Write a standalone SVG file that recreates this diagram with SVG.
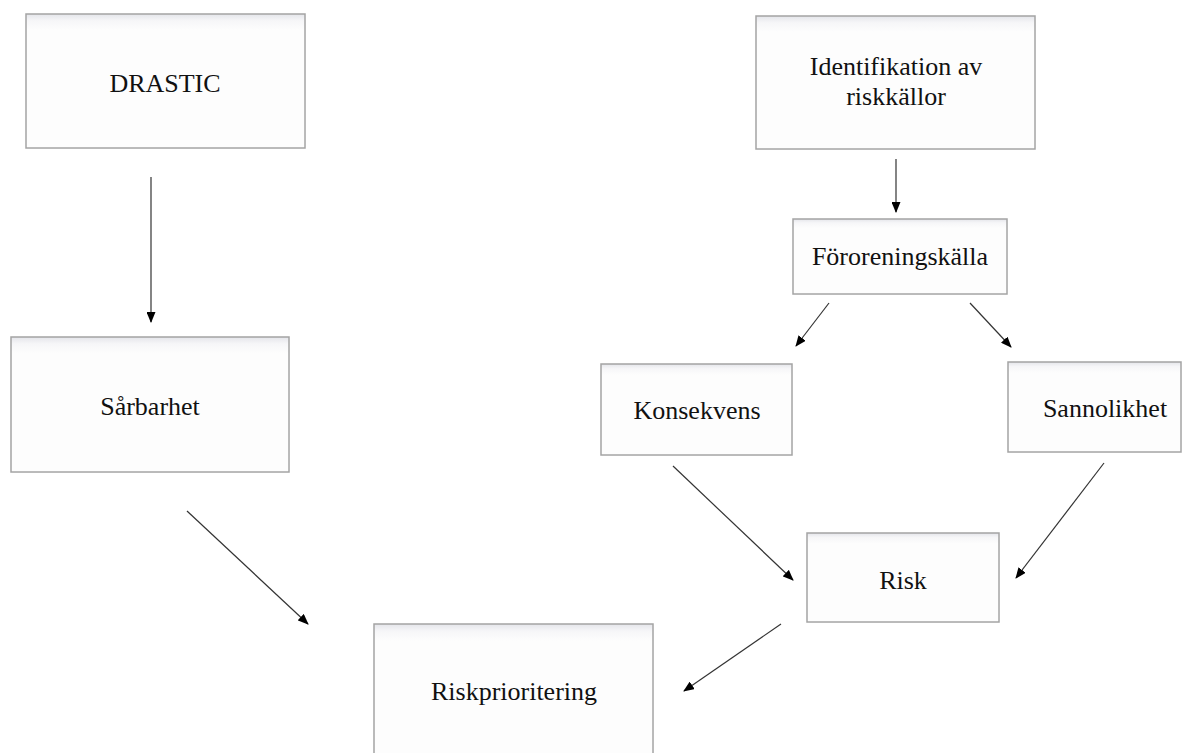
<svg xmlns="http://www.w3.org/2000/svg" width="1190" height="753" viewBox="0 0 1190 753">
  <defs>
    <linearGradient id="boxfill" x1="0" y1="0" x2="0" y2="1">
      <stop offset="0" stop-color="#e4e5ea"/>
      <stop offset="0.05" stop-color="#f6f6f8"/>
      <stop offset="0.12" stop-color="#fdfdfd"/>
      <stop offset="1" stop-color="#fdfdfd"/>
    </linearGradient>
    <marker id="arrow" markerUnits="userSpaceOnUse" markerWidth="11" markerHeight="9" refX="10" refY="4.5" orient="auto">
      <path d="M0,0 L11,4.5 L0,9 z" fill="#000"/>
    </marker>
  </defs>
  <style>
    .box { fill: url(#boxfill); stroke: #a4a4a4; stroke-width: 1.5; }
    text { font-family: "Liberation Serif", "Times New Roman", Times, "DejaVu Serif", serif; font-size: 26px; fill: #111; text-anchor: middle; }
    .conn line { stroke: #333; stroke-width: 1.2; marker-end: url(#arrow); }
  </style>
  <rect width="1190" height="753" fill="#ffffff"/>

  <g id="drastic">
    <rect class="box" x="26" y="14" width="279" height="134"/>
    <text x="165" y="92" font-family="Liberation Serif">DRASTIC</text>
  </g>
  <g id="identifikation">
    <rect class="box" x="756" y="16" width="279" height="133"/>
    <text x="896" y="75" font-family="Liberation Serif">Identifikation av</text>
    <text x="896" y="105" font-family="Liberation Serif">riskkällor</text>
  </g>
  <g id="fororeningskalla">
    <rect class="box" x="793" y="219" width="214" height="75"/>
    <text x="900" y="265" font-family="Liberation Serif">Föroreningskälla</text>
  </g>
  <g id="sarbarhet">
    <rect class="box" x="11" y="337" width="278" height="135"/>
    <text x="150" y="415" font-family="Liberation Serif">Sårbarhet</text>
  </g>
  <g id="konsekvens">
    <rect class="box" x="601" y="364" width="191" height="91"/>
    <text x="697" y="419" font-family="Liberation Serif">Konsekvens</text>
  </g>
  <g id="sannolikhet">
    <rect class="box" x="1008" y="362" width="173" height="90"/>
    <text x="1105" y="417" font-family="Liberation Serif">Sannolikhet</text>
  </g>
  <g id="risk">
    <rect class="box" x="807" y="533" width="192" height="89"/>
    <text x="903" y="589" font-family="Liberation Serif">Risk</text>
  </g>
  <g id="riskprioritering">
    <rect class="box" x="374" y="624" width="279" height="140"/>
    <text x="514" y="700" font-family="Liberation Serif">Riskprioritering</text>
  </g>

  <g id="connectors" class="conn">
    <line x1="151" y1="177" x2="151" y2="322"/>
    <line x1="896" y1="159" x2="896" y2="212"/>
    <line x1="829" y1="303" x2="796" y2="346"/>
    <line x1="970" y1="303" x2="1011" y2="347"/>
    <line x1="673" y1="466" x2="793" y2="580"/>
    <line x1="1104" y1="463" x2="1016" y2="578"/>
    <line x1="187" y1="511" x2="308" y2="624"/>
    <line x1="781" y1="624" x2="684" y2="691"/>
  </g>
</svg>
